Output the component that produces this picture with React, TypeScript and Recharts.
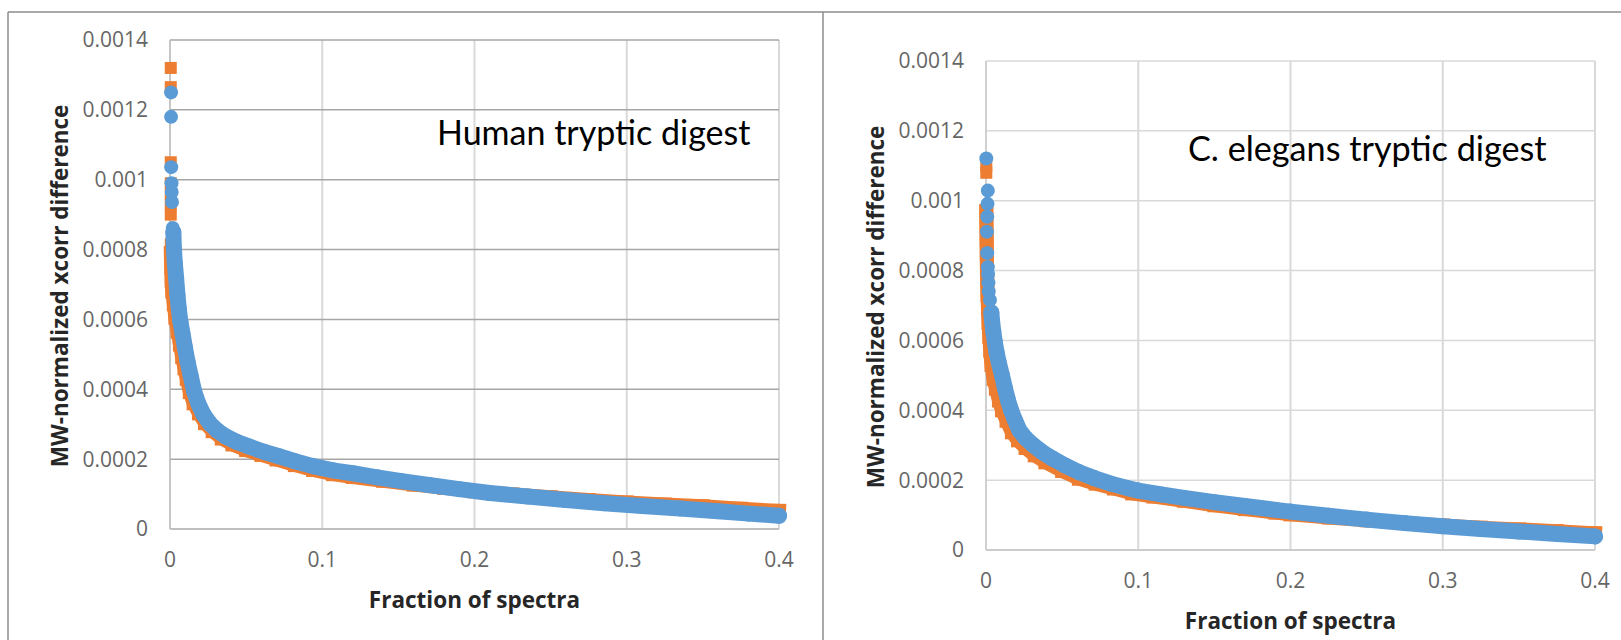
import React from 'react';
import { ScatterChart, Scatter, XAxis, YAxis, CartesianGrid } from 'recharts';

const BLUE = '#5B9BD5';
const ORANGE = '#ED7D31';

const xTicks = [0, 0.1, 0.2, 0.3, 0.4];
const xTickLabels = ['0', '0.1', '0.2', '0.3', '0.4'];
const yTicks = [0, 0.0002, 0.0004, 0.0006, 0.0008, 0.001, 0.0012, 0.0014];
const yTickLabels = ['0', '0.0002', '0.0004', '0.0006', '0.0008', '0.001', '0.0012', '0.0014'];

const yTitle = 'MW-normalized xcorr difference';
const xTitle = 'Fraction of spectra';
const humanTitle = 'Human tryptic digest';
const elegansTitle = 'C. elegans tryptic digest';

// ---------- Human tryptic digest ----------
const humanOrangeTopX = [0.0005, 0.0005, 0.0005, 0.0005, 0.0005, 0.0005, 0.0005, 0.0005];
const humanOrangeTopY = [0.00132, 0.001265, 0.00105, 0.00099, 0.00096, 0.00093, 0.0009, 0.000815];

const humanOrangeX = [0.0006, 0.0008, 0.0011, 0.0015, 0.0025, 0.0035, 0.005, 0.0065, 0.008, 0.0095, 0.011, 0.013, 0.0155, 0.019, 0.023, 0.028, 0.034, 0.041, 0.05, 0.06, 0.07, 0.082, 0.094, 0.107, 0.12, 0.14, 0.16, 0.18, 0.2, 0.225, 0.25, 0.275, 0.3, 0.325, 0.35, 0.375, 0.4];
const humanOrangeY = [0.00079, 0.00075, 0.00071, 0.00068, 0.000643, 0.000605, 0.000565, 0.000528, 0.000492, 0.00046, 0.00043, 0.000392, 0.00036, 0.000331, 0.000303, 0.00028, 0.000259, 0.000242, 0.000226, 0.000212, 0.000199, 0.000183, 0.000169, 0.000157, 0.000149, 0.000138, 0.000127, 0.000118, 0.000108, 0.000099, 0.000091, 0.000083, 0.000076, 0.00007, 0.000065, 0.000058, 0.000052];

const humanBlueTopX = [0.0007, 0.0007, 0.0008, 0.001, 0.0011, 0.0013, 0.0018];
const humanBlueTopY = [0.00125, 0.00118, 0.001036, 0.00099, 0.000965, 0.000936, 0.000862];

const humanBlueX = [0.0022, 0.0026, 0.0032, 0.004, 0.0049, 0.0058, 0.0068, 0.0082, 0.0098, 0.0115, 0.0135, 0.0158, 0.0185, 0.022, 0.026, 0.031, 0.037, 0.044, 0.052, 0.061, 0.071, 0.082, 0.094, 0.107, 0.121, 0.136, 0.152, 0.17, 0.19, 0.21, 0.235, 0.26, 0.285, 0.31, 0.335, 0.36, 0.38, 0.4];
const humanBlueY = [0.00085, 0.0008, 0.00076, 0.00072, 0.00067, 0.00063, 0.000595, 0.00056, 0.00052, 0.00048, 0.00044, 0.000395, 0.00036, 0.000328, 0.000303, 0.000282, 0.000264, 0.000249, 0.000236, 0.000222, 0.000209, 0.000194, 0.00018, 0.000168, 0.000159, 0.000148, 0.000137, 0.000126, 0.000114, 0.000103, 0.000093, 0.000083, 0.000074, 0.000066, 0.000059, 0.000051, 0.000044, 0.000038];

// ---------- C. elegans tryptic digest ----------
const elegansOrangeTopX = [0.0002, 0.0002];
const elegansOrangeTopY = [0.0011, 0.00108];

const elegansOrangeX = [0.0002, 0.0003, 0.0004, 0.0005, 0.0006, 0.0008, 0.001, 0.0013, 0.0017, 0.0022, 0.0028, 0.0036, 0.005, 0.0065, 0.0085, 0.0105, 0.0135, 0.017, 0.021, 0.026, 0.032, 0.039, 0.05, 0.061, 0.072, 0.084, 0.096, 0.11, 0.13, 0.15, 0.17, 0.19, 0.2, 0.225, 0.25, 0.275, 0.3, 0.325, 0.35, 0.375, 0.4];
const elegansOrangeY = [0.00097, 0.00093, 0.00089, 0.00085, 0.00081, 0.00077, 0.00073, 0.00069, 0.00065, 0.00061, 0.00057, 0.00053, 0.00049, 0.000462, 0.000428, 0.0004, 0.00037, 0.000337, 0.000314, 0.000292, 0.000271, 0.000251, 0.000226, 0.000204, 0.00019, 0.000176, 0.000162, 0.000153, 0.000141, 0.000128, 0.000117, 0.000107, 0.000102, 0.000093, 0.000085, 0.000077, 0.00007, 0.000064, 0.000059, 0.000054, 0.000048];

const elegansBlueTopX = [0.0002, 0.0012, 0.001, 0.0008, 0.0006, 0.0008, 0.0012, 0.0014, 0.0016, 0.0018, 0.0026];
const elegansBlueTopY = [0.001121, 0.001029, 0.000991, 0.000954, 0.000911, 0.00085, 0.00081, 0.00079, 0.000765, 0.00074, 0.000716];

const elegansBlueX = [0.0035, 0.004, 0.0048, 0.0058, 0.007, 0.0085, 0.0105, 0.0125, 0.0145, 0.0165, 0.019, 0.022, 0.026, 0.031, 0.037, 0.044, 0.052, 0.061, 0.071, 0.082, 0.094, 0.1, 0.115, 0.13, 0.15, 0.17, 0.19, 0.2, 0.225, 0.25, 0.275, 0.3, 0.325, 0.35, 0.375, 0.4];
const elegansBlueY = [0.00068, 0.000655, 0.000625, 0.000595, 0.000565, 0.000535, 0.0005, 0.000462, 0.000428, 0.0004, 0.000372, 0.000342, 0.00032, 0.0003, 0.00028, 0.000261, 0.000242, 0.000223, 0.000206, 0.00019, 0.000176, 0.00017, 0.000159, 0.000149, 0.000137, 0.000126, 0.000115, 0.00011, 0.000098, 0.000087, 0.000077, 0.000068, 0.00006, 0.000053, 0.000046, 0.000039];

const zip = (xs: number[], ys: number[]) => xs.map((x, i) => ({ x, y: ys[i] }));

const circleShape = (r: number, fill: string) => (p: any) =>
  p.cx == null ? <g /> : <circle cx={p.cx} cy={p.cy} r={r} fill={fill} />;
const squareShape = (s: number, fill: string) => (p: any) =>
  p.cx == null ? <g /> : <rect x={p.cx - s / 2} y={p.cy - s / 2} width={s} height={s} fill={fill} />;

const TICK_STYLE = { fontFamily: '"Open Sans", sans-serif', fontSize: 21, fill: '#666666' };
const TITLE_FONT = '"Open Sans", sans-serif';

type PanelProps = {
  left: number;
  width: number;
  marginTop: number;
  marginRight: number;
  yAxisWidth: number;
  xAxisHeight: number;
  yTitleX: number;
  hGrid: string;
  vGrid: string;
  axisColor: string;
  orangeTop: { x: number; y: number }[];
  orangeBand: { x: number; y: number }[];
  blueTop: { x: number; y: number }[];
  blueBand: { x: number; y: number }[];
};

function Panel(props: PanelProps) {
  const { left, width, marginTop, marginRight, yAxisWidth, xAxisHeight, yTitleX, hGrid, vGrid, axisColor } = props;
  return (
    <div style={{ position: 'absolute', left, top: 0 }}>
      <ScatterChart width={width} height={640} margin={{ top: marginTop, right: marginRight, bottom: 0, left: 0 }}>
        <CartesianGrid horizontal={false} stroke={vGrid} strokeWidth={2} />
        <CartesianGrid vertical={false} stroke={hGrid} strokeWidth={1.5} />
        <XAxis
          type="number"
          dataKey="x"
          domain={[0, 0.4]}
          ticks={xTicks}
          interval={0}
          height={xAxisHeight}
          tickSize={0}
          tickMargin={23}
          tickLine={false}
          axisLine={{ stroke: axisColor, strokeWidth: 2 }}
          tick={TICK_STYLE}
          tickFormatter={(v: number) => xTickLabels[xTicks.indexOf(v)] ?? String(v)}
          label={{
            content: (p: any) => {
              const vb = p.viewBox || {};
              return (
                <text
                  x={vb.x + vb.width / 2}
                  y={vb.y + 70}
                  textAnchor="middle"
                  dominantBaseline="central"
                  fontFamily={TITLE_FONT}
                  fontWeight={700}
                  fontSize={22.5}
                  fill="#262626"
                >
                  {xTitle}
                </text>
              );
            },
          }}
        />
        <YAxis
          type="number"
          dataKey="y"
          domain={[0, 0.0014]}
          ticks={yTicks}
          interval={0}
          width={yAxisWidth}
          tickSize={0}
          tickMargin={22}
          tickLine={false}
          axisLine={{ stroke: axisColor, strokeWidth: 1.5 }}
          tick={TICK_STYLE}
          tickFormatter={(v: number) => yTickLabels[yTicks.indexOf(v)] ?? String(v)}
          label={{
            content: (p: any) => {
              const vb = p.viewBox || {};
              const cx = vb.x + yTitleX;
              const cy = vb.y + vb.height / 2 + 1.5;
              return (
                <text
                  x={cx}
                  y={cy}
                  transform={`rotate(-90, ${cx}, ${cy})`}
                  textAnchor="middle"
                  dominantBaseline="central"
                  fontFamily={TITLE_FONT}
                  fontWeight={700}
                  fontSize={22.5}
                  fill="#262626"
                >
                  {yTitle}
                </text>
              );
            },
          }}
        />
        <Scatter
          data={props.orangeBand}
          fill={ORANGE}
          line={{ stroke: ORANGE, strokeWidth: 14, strokeLinejoin: 'miter', strokeLinecap: 'square' }}
          lineType="joint"
          shape={squareShape(14, ORANGE)}
          isAnimationActive={false}
        />
        <Scatter data={props.orangeTop} fill={ORANGE} shape={squareShape(12, ORANGE)} isAnimationActive={false} />
        <Scatter
          data={props.blueBand}
          fill={BLUE}
          line={{ stroke: BLUE, strokeWidth: 16, strokeLinejoin: 'round', strokeLinecap: 'round' }}
          lineType="joint"
          shape={circleShape(8, BLUE)}
          isAnimationActive={false}
        />
        <Scatter data={props.blueTop} fill={BLUE} shape={circleShape(7, BLUE)} isAnimationActive={false} />
      </ScatterChart>
    </div>
  );
}

export default function App() {
  return (
    <div style={{ position: 'absolute', left: 0, top: 0, width: 1621, height: 640, background: '#fff', overflow: 'hidden' }}>
      <Panel
        left={0}
        width={822}
        marginTop={40}
        marginRight={43}
        yAxisWidth={170}
        xAxisHeight={111}
        yTitleX={59}
        hGrid="#a6a6a6"
        vGrid="#d9d9d9"
        axisColor="#bfbfbf"
        orangeTop={zip(humanOrangeTopX, humanOrangeTopY)}
        orangeBand={zip(humanOrangeX, humanOrangeY)}
        blueTop={zip(humanBlueTopX, humanBlueTopY)}
        blueBand={zip(humanBlueX, humanBlueY)}
      />
      <Panel
        left={824}
        width={797}
        marginTop={61}
        marginRight={26}
        yAxisWidth={162}
        xAxisHeight={90}
        yTitleX={51}
        hGrid="#d9d9d9"
        vGrid="#d9d9d9"
        axisColor="#cccccc"
        orangeTop={zip(elegansOrangeTopX, elegansOrangeTopY)}
        orangeBand={zip(elegansOrangeX, elegansOrangeY)}
        blueTop={zip(elegansBlueTopX, elegansBlueTopY)}
        blueBand={zip(elegansBlueX, elegansBlueY)}
      />
      <svg
        width={1621}
        height={640}
        style={{ position: 'absolute', left: 0, top: 0, pointerEvents: 'none' }}
      >
        <line x1={8} y1={12} x2={1621} y2={12} stroke="#8c8c8c" strokeWidth={1.5} />
        <line x1={8} y1={12} x2={8} y2={640} stroke="#8c8c8c" strokeWidth={1.5} />
        <line x1={823} y1={12} x2={823} y2={640} stroke="#8c8c8c" strokeWidth={1.5} />
        <text x={437} y={131} dominantBaseline="central" fontFamily="Lato, sans-serif" fontSize={34} fill="#000">
          {humanTitle}
        </text>
        <text x={1188} y={147} dominantBaseline="central" fontFamily="Lato, sans-serif" fontSize={34.2} fill="#000">
          {elegansTitle}
        </text>
      </svg>
    </div>
  );
}
